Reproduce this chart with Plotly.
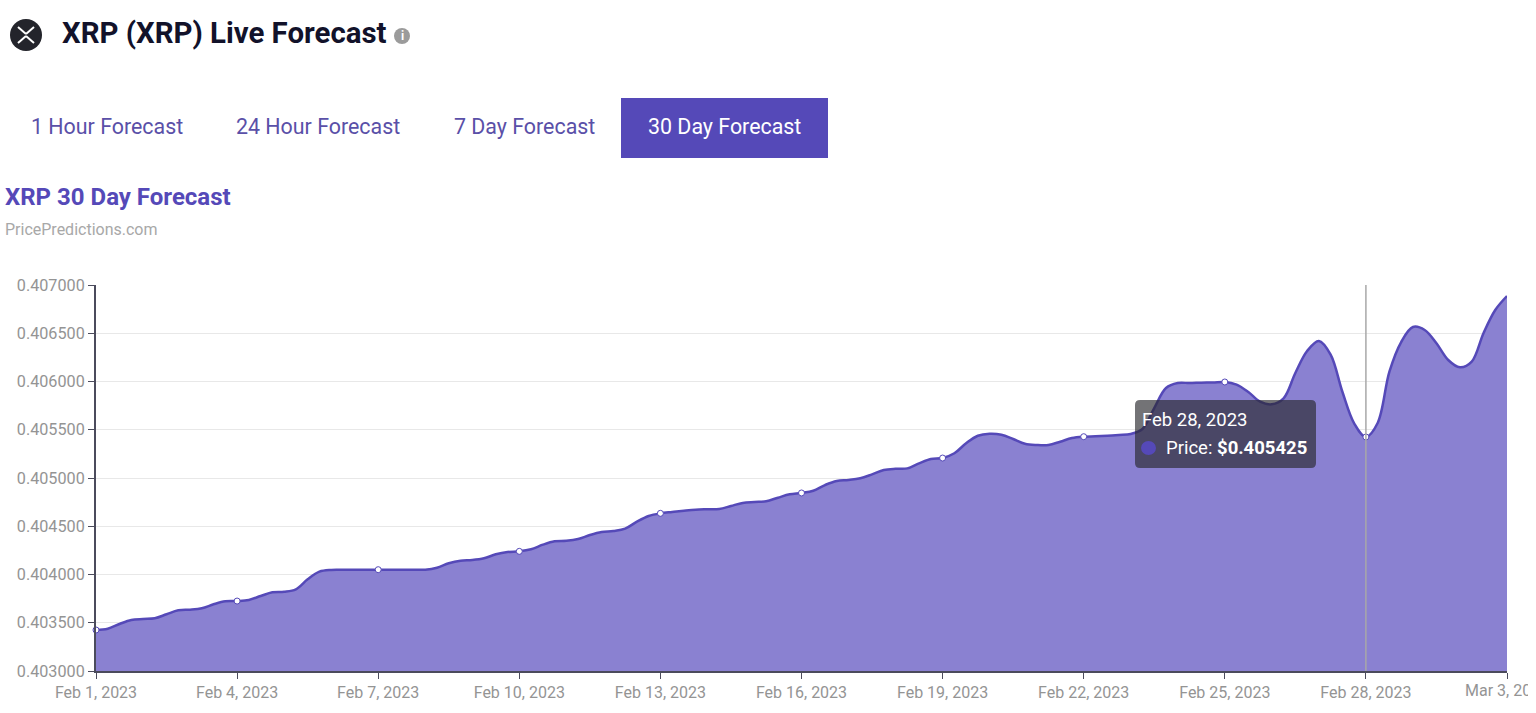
import pandas as pd
import plotly.graph_objects as go

# forecast, one reading every 6 hours
dates = pd.date_range("2023-02-01", "2023-03-03", freq="6h")
prices = [
    0.403425, 0.403438, 0.403487, 0.403528, 0.403539, 0.403546, 0.403588, 0.403629,
    0.403635, 0.403650, 0.403691, 0.403722, 0.403725, 0.403736, 0.403777, 0.403816,
    0.403822, 0.403847, 0.403950, 0.404029, 0.404047, 0.404048, 0.404049, 0.404050,
    0.404050, 0.404050, 0.404050, 0.404050, 0.404050, 0.404070, 0.404116, 0.404143,
    0.404150, 0.404168, 0.404209, 0.404233, 0.404240, 0.404261, 0.404309, 0.404344,
    0.404350, 0.404368, 0.404409, 0.404440, 0.404451, 0.404475, 0.404547, 0.404606,
    0.404634, 0.404648, 0.404661, 0.404672, 0.404676, 0.404679, 0.404710, 0.404741,
    0.404751, 0.404759, 0.404796, 0.404831, 0.404845, 0.404868, 0.404927, 0.404969,
    0.404979, 0.404997, 0.405038, 0.405083, 0.405096, 0.405100, 0.405152, 0.405197,
    0.405207, 0.405256, 0.405360, 0.405438, 0.405459, 0.405449, 0.405404, 0.405355,
    0.405342, 0.405342, 0.405376, 0.405414, 0.405428, 0.405432, 0.405438, 0.405446,
    0.405456, 0.405508, 0.405725, 0.405933, 0.405984, 0.405984, 0.405988, 0.405990,
    0.405995, 0.405967, 0.405891, 0.405791, 0.405764, 0.405826, 0.406088, 0.406316,
    0.406420, 0.406278, 0.405894, 0.405567, 0.405425, 0.405570, 0.406102, 0.406409,
    0.406565, 0.406534, 0.406396, 0.406223, 0.406147, 0.406205, 0.406500, 0.406741,
    0.406886,
]
tick_dates = dates[::12]
tick_labels = [
    "Feb 1, 2023", "Feb 4, 2023", "Feb 7, 2023", "Feb 10, 2023", "Feb 13, 2023", "Feb 16, 2023",
    "Feb 19, 2023", "Feb 22, 2023", "Feb 25, 2023", "Feb 28, 2023", "Mar 3, 2023",
]
y_ticks = [0.403, 0.4035, 0.404, 0.4045, 0.405, 0.4055, 0.406, 0.4065, 0.407]
tabs = ["1 Hour Forecast", "24 Hour Forecast", "7 Day Forecast", "30 Day Forecast"]
hover_day = pd.Timestamp("2023-02-28")

# body margin removed below, width stops at 1528 so the last tick label gets cut there
W = 1528
H = 713
PURPLE = "#5549b8"
AXIS = "#4b4b5c"
TICK_TEXT = "#949494"
FONT = "Roboto"


def px(x):
    return x / W


def py(y):
    return 1 - y / H


fig = go.Figure()

fig.add_trace(go.Scatter(
    x=dates, y=prices, mode="lines", fill="tozeroy", fillcolor="#8a81d1",
    line=dict(color=PURPLE, width=2.5, shape="spline", smoothing=1),
    hoverinfo="skip", showlegend=False,
))
fig.add_trace(go.Scatter(
    x=dates[::12][:-1], y=prices[::12][:-1], mode="markers",
    marker=dict(size=6, color="white", line=dict(color=PURPLE, width=1)),
    hoverinfo="skip", showlegend=False, cliponaxis=False,
))

fig.update_xaxes(
    type="date", range=[dates[0], dates[-1]], domain=[px(96), px(1507)], automargin=False,
    tickmode="array", tickvals=tick_dates, ticktext=tick_labels[:-1] + [""],
    ticks="outside", ticklen=6, tickcolor=AXIS,
    tickfont=dict(family=FONT, size=16, color=TICK_TEXT),
    showgrid=False, showline=True, linecolor=AXIS, linewidth=2, zeroline=False,
)
fig.update_yaxes(
    range=[0.403, 0.407], domain=[py(671), py(285)], automargin=False,
    tickmode="array", tickvals=y_ticks, tickformat=".6f",
    ticks="outside", ticklen=6, tickcolor=AXIS,
    tickfont=dict(family=FONT, size=16.2, color=TICK_TEXT),
    showgrid=True, gridcolor="#e8e8e8", gridwidth=1,
    showline=True, linecolor=AXIS, linewidth=2, zeroline=False,
)


def round_box(x0, y0, x1, y1, r):
    return (
        f"M {px(x0 + r)} {py(y0)} L {px(x1 - r)} {py(y0)} Q {px(x1)} {py(y0)} {px(x1)} {py(y0 + r)} "
        f"L {px(x1)} {py(y1 - r)} Q {px(x1)} {py(y1)} {px(x1 - r)} {py(y1)} "
        f"L {px(x0 + r)} {py(y1)} Q {px(x0)} {py(y1)} {px(x0)} {py(y1 - r)} "
        f"L {px(x0)} {py(y0 + r)} Q {px(x0)} {py(y0)} {px(x0 + r)} {py(y0)} Z"
    )


shapes = []
# crosshair at the hovered day
shapes.append(dict(type="line", xref="x", yref="paper", x0=hover_day, x1=hover_day,
                   y0=py(671), y1=py(285), line=dict(color="#a8a8a8", width=1.5)))
# active tab
shapes.append(dict(type="rect", xref="paper", yref="paper", x0=px(621), x1=px(828),
                   y0=py(158), y1=py(98), fillcolor=PURPLE, line_width=0))
# coin icon
shapes.append(dict(type="circle", xref="paper", yref="paper", x0=px(10), x1=px(42),
                   y0=py(51), y1=py(19), fillcolor="#23242b", line_width=0))
for a, b in [((18, 27), (26, 34)), ((34, 27), (26, 34)), ((18, 43), (26, 36)), ((34, 43), (26, 36))]:
    shapes.append(dict(type="line", xref="paper", yref="paper", x0=px(a[0]), x1=px(b[0]),
                       y0=py(a[1]), y1=py(b[1]), line=dict(color="white", width=2)))
# info icon
shapes.append(dict(type="circle", xref="paper", yref="paper", x0=px(394), x1=px(410),
                   y0=py(44), y1=py(28), fillcolor="#9b9b9b", line_width=0))
# tooltip box
shapes.append(dict(type="path", xref="paper", yref="paper", path=round_box(1135, 400, 1316, 468, 5),
                   fillcolor="rgba(40,40,45,0.65)", line_width=0))
shapes.append(dict(type="circle", xref="paper", yref="paper", x0=px(1141), x1=px(1156),
                   y0=py(455), y1=py(441), fillcolor=PURPLE, line_width=0))
fig.update_layout(shapes=shapes)


def label(x, y, text, size, color, anchor="left"):
    fig.add_annotation(xref="paper", yref="paper", x=px(x), y=py(y), text=text, showarrow=False,
                       xanchor=anchor, yanchor="middle", align=anchor,
                       font=dict(family=FONT, size=size, color=color))


label(60, 33, "<b>XRP (XRP) Live Forecast</b>", 29.4, "#12122a")
label(402, 36, "<b>i</b>", 12, "white", "center")
label(107, 127, tabs[0], 21.4, "#5a50a8", "center")
label(318, 127, tabs[1], 21.4, "#5a50a8", "center")
label(524, 127, tabs[2], 21.4, "#5a50a8", "center")
label(724, 127, tabs[3], 21.4, "white", "center")
label(3, 197, "<b>XRP 30 Day Forecast</b>", 24, PURPLE)
label(3, 230, "PricePredictions.com", 16, "#a8a8a8")
label(1140, 420, "Feb 28, 2023", 18.5, "white")
label(1164, 448, "Price: <b>$0.405425</b>", 18.5, "white")

# plotly drops the last tick label since it runs off the page, the reference shows it cut
fig.add_annotation(xref="x", yref="paper", x=dates[-1], y=py(690), text=tick_labels[-1], showarrow=False,
                   xanchor="center", yanchor="middle",
                   font=dict(family=FONT, size=16, color=TICK_TEXT))

fig.update_layout(
    width=W, height=H, autosize=False,
    margin=dict(l=0, r=0, t=0, b=0),
    paper_bgcolor="white", plot_bgcolor="white",
    font=dict(family=FONT),
    showlegend=False,
)

fig.write_html("out.html", config={"displayModeBar": False},
               post_script="document.body.style.margin='0';document.body.style.overflow='hidden';")
